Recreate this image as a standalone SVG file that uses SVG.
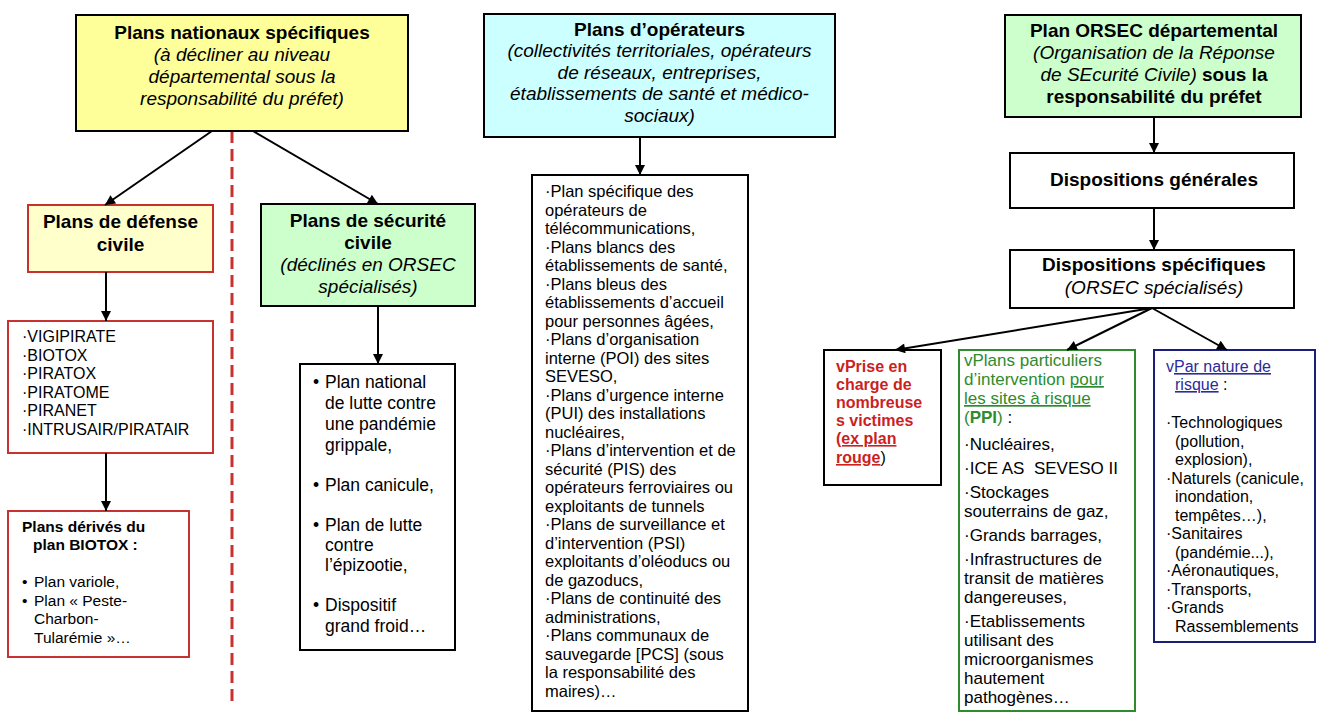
<svg xmlns="http://www.w3.org/2000/svg" width="1317" height="713" viewBox="0 0 1317 713">
<defs>
<marker id="ah" viewBox="0 0 10 10" refX="10" refY="5" markerWidth="11" markerHeight="10" markerUnits="userSpaceOnUse" orient="auto"><path d="M0,0 L10,5 L0,10 z" fill="#000"/></marker>
</defs>
<style>
text{font-family:"Liberation Sans",Arial,sans-serif;fill:#000}
.h{font-size:19px;font-weight:bold}
.hi{font-size:19px;font-style:italic}
.c{text-anchor:middle}
.box{stroke:#000;stroke-width:2}
.rb{stroke:#C8322E;stroke-width:2}
.s16{font-size:16px}
.s15{font-size:15.5px}
.s17{font-size:17px}
.s175{font-size:17.5px}
.mid{font-size:16.5px}
.b{font-weight:bold}
.u{text-decoration:underline}
.rt{fill:#CC1F1F;font-weight:bold}
.gt{fill:#2E8B2E}
.bt{fill:#2B2B9A}
.conn line{stroke:#000;stroke-width:2;marker-end:url(#ah)}
</style>
<rect width="1317" height="713" fill="#fff"/>

<g id="divider"><line x1="232" y1="131" x2="232" y2="705" stroke="#C8322E" stroke-width="3" stroke-dasharray="12,6"/></g>

<g id="plans-nationaux">
<rect x="76" y="15" width="332" height="116" fill="#FFFF99" class="box"/>
<text class="c"><tspan class="h" x="242" y="39">Plans nationaux spécifiques</tspan><tspan class="hi" x="242" y="61">(à décliner au niveau</tspan><tspan class="hi" x="242" y="83">départemental sous la</tspan><tspan class="hi" x="242" y="105">responsabilité du préfet)</tspan></text>
</g>

<g id="defense-civile">
<rect x="28" y="205" width="185" height="67" fill="#FFFFCC" class="rb"/>
<text class="c h"><tspan x="120.5" y="228">Plans de défense</tspan><tspan x="120.5" y="251">civile</tspan></text>
</g>

<g id="liste-defense">
<rect x="8" y="321" width="205" height="132" fill="#fff" class="rb"/>
<text class="s16"><tspan x="22" y="342">·VIGIPIRATE</tspan><tspan x="22" y="360.5">·BIOTOX</tspan><tspan x="22" y="379">·PIRATOX</tspan><tspan x="22" y="397.5">·PIRATOME</tspan><tspan x="22" y="416">·PIRANET</tspan><tspan x="22" y="434.5">·INTRUSAIR/PIRATAIR</tspan></text>
</g>

<g id="derives-biotox">
<rect x="8" y="511" width="181" height="146" fill="#fff" class="rb"/>
<text class="s15"><tspan class="b" x="22" y="532">Plans dérivés du</tspan><tspan class="b" x="33" y="550">plan BIOTOX :</tspan><tspan x="22" y="587">•</tspan><tspan x="34" y="587">Plan variole,</tspan><tspan x="22" y="605.5">•</tspan><tspan x="34" y="605.5">Plan « Peste-</tspan><tspan x="34" y="624">Charbon-</tspan><tspan x="34" y="642.5">Tularémie »…</tspan></text>
</g>

<g id="securite-civile">
<rect x="261" y="204" width="214" height="102" fill="#CCFFCC" class="box"/>
<text class="c"><tspan class="h" x="368" y="227">Plans de sécurité</tspan><tspan class="h" x="368" y="249">civile</tspan><tspan class="hi" x="368" y="271">(déclinés en ORSEC</tspan><tspan class="hi" x="368" y="293">spécialisés)</tspan></text>
</g>

<g id="liste-securite">
<rect x="300" y="364" width="155" height="286" fill="#fff" class="box"/>
<text class="s175"><tspan x="313" y="388">•</tspan><tspan x="325" y="388">Plan national</tspan><tspan x="325" y="409">de lutte contre</tspan><tspan x="325" y="430">une pandémie</tspan><tspan x="325" y="451">grippale,</tspan><tspan x="313" y="491">•</tspan><tspan x="325" y="491">Plan canicule,</tspan><tspan x="313" y="531">•</tspan><tspan x="325" y="531">Plan de lutte</tspan><tspan x="325" y="551">contre</tspan><tspan x="325" y="571">l’épizootie,</tspan><tspan x="313" y="611">•</tspan><tspan x="325" y="611">Dispositif</tspan><tspan x="325" y="632">grand froid…</tspan></text>
</g>

<g id="plans-operateurs">
<rect x="484" y="14" width="351" height="123" fill="#CCFFFF" class="box"/>
<text class="c"><tspan class="h" x="659.5" y="36">Plans d’opérateurs</tspan><tspan class="hi" x="659.5" y="57">(collectivités territoriales, opérateurs</tspan><tspan class="hi" x="659.5" y="79">de réseaux, entreprises,</tspan><tspan class="hi" x="659.5" y="100">établissements de santé et médico-</tspan><tspan class="hi" x="659.5" y="122">sociaux)</tspan></text>
</g>

<g id="liste-operateurs">
<rect x="532" y="175" width="216" height="536" fill="#fff" class="box"/>
<text class="mid"><tspan x="545" y="197">·Plan spécifique des</tspan><tspan x="545" y="215.5">opérateurs de</tspan><tspan x="545" y="234">télécommunications,</tspan><tspan x="545" y="252.5">·Plans blancs des</tspan><tspan x="545" y="271">établissements de santé,</tspan><tspan x="545" y="289.5">·Plans bleus des</tspan><tspan x="545" y="308">établissements d’accueil</tspan><tspan x="545" y="326.5">pour personnes âgées,</tspan><tspan x="545" y="345">·Plans d’organisation</tspan><tspan x="545" y="363.5">interne (POI) des sites</tspan><tspan x="545" y="382">SEVESO,</tspan><tspan x="545" y="400.5">·Plans d’urgence interne</tspan><tspan x="545" y="419">(PUI) des installations</tspan><tspan x="545" y="437.5">nucléaires,</tspan><tspan x="545" y="456">·Plans d’intervention et de</tspan><tspan x="545" y="474.5">sécurité (PIS) des</tspan><tspan x="545" y="493">opérateurs ferroviaires ou</tspan><tspan x="545" y="511.5">exploitants de tunnels</tspan><tspan x="545" y="530">·Plans de surveillance et</tspan><tspan x="545" y="548.5">d’intervention (PSI)</tspan><tspan x="545" y="567">exploitants d’oléoducs ou</tspan><tspan x="545" y="585.5">de gazoducs,</tspan><tspan x="545" y="604">·Plans de continuité des</tspan><tspan x="545" y="622.5">administrations,</tspan><tspan x="545" y="641">·Plans communaux de</tspan><tspan x="545" y="659.5">sauvegarde [PCS] (sous</tspan><tspan x="545" y="678">la responsabilité des</tspan><tspan x="545" y="696.5">maires)…</tspan></text>
</g>

<g id="orsec">
<rect x="1005" y="15" width="296" height="102" fill="#CCFFCC" class="box"/>
<text class="c"><tspan class="h" x="1154" y="37">Plan ORSEC départemental</tspan><tspan class="hi" x="1154" y="59">(Organisation de la Réponse</tspan><tspan class="hi" x="1154" y="81">de SEcurité Civile)</tspan><tspan class="h"> sous la</tspan><tspan class="h" x="1154" y="103">responsabilité du préfet</tspan></text>
</g>

<g id="dispositions-generales">
<rect x="1010" y="153" width="284" height="55" fill="#fff" class="box"/>
<text class="c h" x="1154" y="186">Dispositions générales</text>
</g>

<g id="dispositions-specifiques">
<rect x="1010" y="250" width="284" height="58" fill="#fff" class="box"/>
<text class="c"><tspan class="h" x="1154" y="271">Dispositions spécifiques</tspan><tspan class="hi" x="1154" y="294">(ORSEC spécialisés)</tspan></text>
</g>

<g id="nombreuses-victimes">
<rect x="824" y="350" width="117" height="135" fill="#fff" class="box"/>
<text class="s16"><tspan class="rt" x="836" y="372">vPrise en</tspan><tspan class="rt" x="836" y="390">charge de</tspan><tspan class="rt" x="836" y="408">nombreuse</tspan><tspan class="rt" x="836" y="426">s victimes</tspan><tspan class="rt u" x="836" y="444">(ex plan</tspan><tspan class="rt u" x="836" y="463">rouge</tspan><tspan>)</tspan></text>
</g>

<g id="ppi">
<rect x="959" y="350" width="176" height="361" fill="#fff" stroke="#2E8B2E" stroke-width="2"/>
<text class="s17"><tspan class="gt" x="964" y="366">vPlans particuliers</tspan><tspan class="gt" x="964" y="385">d’intervention </tspan><tspan class="gt u">pour</tspan><tspan class="gt u" x="964" y="404">les sites à risque</tspan><tspan class="gt" x="964" y="423">(</tspan><tspan class="gt b">PPI</tspan><tspan class="gt">)</tspan><tspan> :</tspan><tspan x="964" y="450">·Nucléaires,</tspan><tspan x="964" y="474">·ICE AS&#160; SEVESO II</tspan><tspan x="964" y="498">·Stockages</tspan><tspan x="964" y="517">souterrains de gaz,</tspan><tspan x="964" y="541">·Grands barrages,</tspan><tspan x="964" y="565">·Infrastructures de</tspan><tspan x="964" y="584">transit de matières</tspan><tspan x="964" y="603">dangereuses,</tspan><tspan x="964" y="627">·Etablissements</tspan><tspan x="964" y="646">utilisant des</tspan><tspan x="964" y="665">microorganismes</tspan><tspan x="964" y="684">hautement</tspan><tspan x="964" y="703">pathogènes…</tspan></text>
</g>

<g id="nature-risque">
<rect x="1154" y="350" width="161" height="292" fill="#fff" stroke="#1C1C7A" stroke-width="2"/>
<text class="s16"><tspan class="bt" x="1166" y="372">v</tspan><tspan class="bt u">Par nature de</tspan><tspan class="bt u" x="1175" y="390">risque</tspan><tspan> :</tspan><tspan x="1166" y="428">·Technologiques</tspan><tspan x="1175" y="446.5">(pollution,</tspan><tspan x="1175" y="465">explosion),</tspan><tspan x="1166" y="483.5">·Naturels (canicule,</tspan><tspan x="1175" y="502">inondation,</tspan><tspan x="1175" y="520.5">tempêtes…),</tspan><tspan x="1166" y="539">·Sanitaires</tspan><tspan x="1175" y="557.5">(pandémie...),</tspan><tspan x="1166" y="576">·Aéronautiques,</tspan><tspan x="1166" y="594.5">·Transports,</tspan><tspan x="1166" y="613">·Grands</tspan><tspan x="1175" y="631.5">Rassemblements</tspan></text>
</g>

<g id="connectors" class="conn">
<line x1="212" y1="131" x2="105" y2="205"/>
<line x1="253" y1="131" x2="378" y2="204"/>
<line x1="106" y1="272" x2="106" y2="321"/>
<line x1="106" y1="453" x2="106" y2="511"/>
<line x1="378" y1="306" x2="378" y2="364"/>
<line x1="640" y1="137" x2="640" y2="175"/>
<line x1="1154" y1="117" x2="1154" y2="153"/>
<line x1="1154" y1="208" x2="1154" y2="250"/>
<line x1="1152" y1="308" x2="895" y2="350"/>
<line x1="1152" y1="308" x2="1067" y2="350"/>
<line x1="1152" y1="308" x2="1227" y2="350"/>
</g>
</svg>
